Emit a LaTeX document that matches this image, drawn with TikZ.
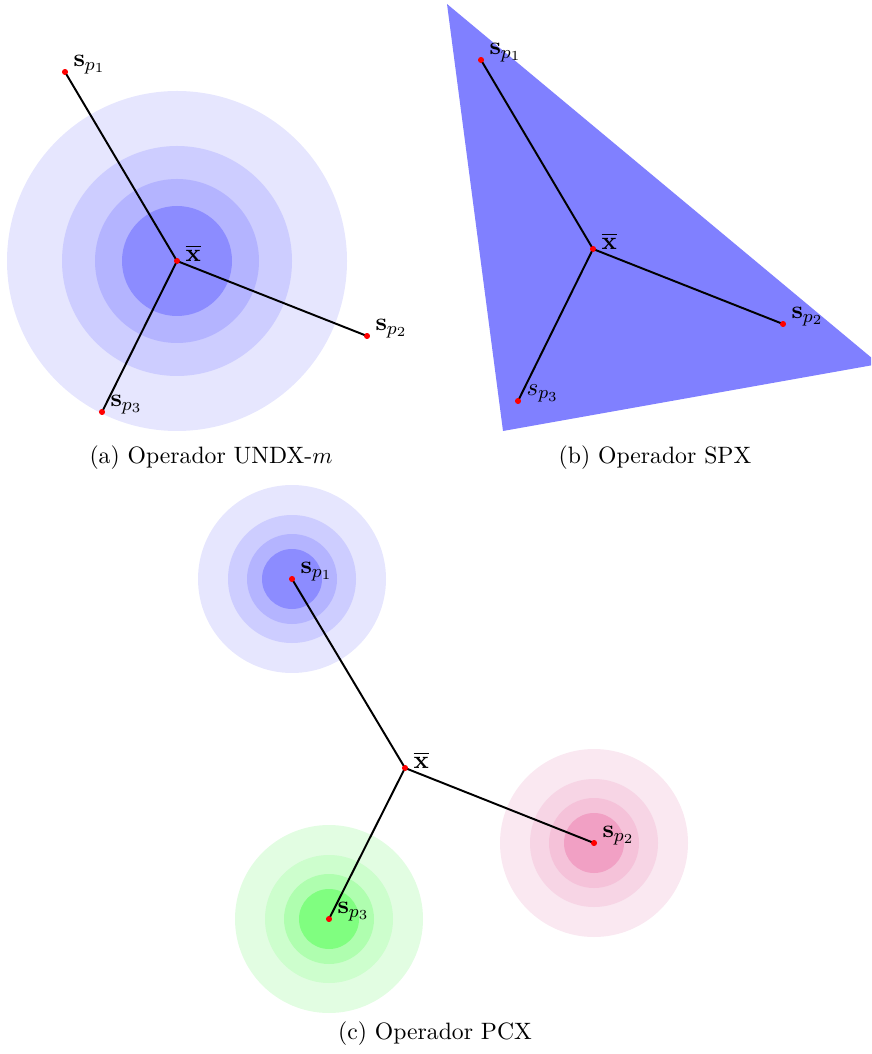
\documentclass[tikz,border=0pt]{standalone}
\usepackage{amsmath}
\definecolor{bA}{RGB}{230,230,254}
\definecolor{bB}{RGB}{205,205,255}
\definecolor{bC}{RGB}{180,180,255}
\definecolor{bD}{RGB}{140,140,255}
\definecolor{tri}{RGB}{128,128,255}
\definecolor{gA}{RGB}{226,253,226}
\definecolor{gB}{RGB}{205,254,205}
\definecolor{gC}{RGB}{175,254,175}
\definecolor{gD}{RGB}{128,254,128}
\definecolor{pA}{RGB}{250,232,241}
\definecolor{pB}{RGB}{247,213,229}
\definecolor{pC}{RGB}{245,194,217}
\definecolor{pD}{RGB}{241,160,196}
\tikzset{
  dotpt/.style={circle, fill=red, inner sep=0pt, minimum size=2.5pt},
  seg/.style={draw=black, line width=0.85pt},
  lab/.style={anchor=west, inner sep=0pt, xshift=3.5pt, yshift=3.3pt, font=\fontsize{11.3}{13}\selectfont},
  captext/.style={inner sep=0pt, font=\fontsize{10.3}{12}\selectfont}
}
\begin{document}
\begin{tikzpicture}[x=0.435pt, y=-0.435pt]
\useasboundingbox (0,0) rectangle (871,1054);
% ---------- (a) ----------
\fill[bA] (177,261) circle (170);
\fill[bB] (177,261) circle (115);
\fill[bC] (177,261) circle (82);
\fill[bD] (177,261) circle (55);
\node[dotpt] (ax) at (177,261) {};
\node[dotpt] (a1) at (65,72) {};
\node[dotpt] (a2) at (367,336) {};
\node[dotpt] (a3) at (102,412) {};
\draw[seg] (ax.center) -- (a1.center);
\draw[seg] (ax.center) -- (a2.center);
\draw[seg] (ax.center) -- (a3.center);
\node[dotpt] at (ax) {};
\node[dotpt] at (a1) {};
\node[dotpt] at (a2) {};
\node[dotpt] at (a3) {};
\node[lab] (axl) at (ax) {$\overline{\mathbf{x}}$};
\node[lab] (a1l) at (a1) {$\mathbf{s}_{p_1}$};
\node[lab] (a2l) at (a2) {$\mathbf{s}_{p_2}$};
\node[lab] (a3l) at (a3) {$\mathbf{s}_{p_3}$};
\node[captext] (capa) at (211,458) {(a) Operador UNDX-$m$};
% ---------- (b) ----------
\begin{scope}
\clip (0,0) rectangle (871,1054);
\fill[tri] (447,4) -- (879,364) -- (503,431) -- cycle;
\end{scope}
\node[dotpt] (bx) at (593,249) {};
\node[dotpt] (b1) at (481,60) {};
\node[dotpt] (b2) at (783,324) {};
\node[dotpt] (b3) at (518,401) {};
\draw[seg] (bx.center) -- (b1.center);
\draw[seg] (bx.center) -- (b2.center);
\draw[seg] (bx.center) -- (b3.center);
\node[dotpt] at (bx) {};
\node[dotpt] at (b1) {};
\node[dotpt] at (b2) {};
\node[dotpt] at (b3) {};
\node[lab] (bxl) at (bx) {$\overline{\mathbf{x}}$};
\node[lab] (b1l) at (b1) {$\mathbf{s}_{p_1}$};
\node[lab] (b2l) at (b2) {$\mathbf{s}_{p_2}$};
\node[lab] (b3l) at (b3) {$s_{p_3}$};
\node[captext] (capb) at (655,458) {(b) Operador SPX};
% ---------- (c) ----------
\fill[bA] (292,579) circle (94);
\fill[bB] (292,579) circle (64);
\fill[bC] (292,579) circle (45);
\fill[bD] (292,579) circle (30);
\fill[pA] (594,843) circle (94);
\fill[pB] (594,843) circle (64);
\fill[pC] (594,843) circle (45);
\fill[pD] (594,843) circle (30);
\fill[gA] (329,919) circle (94);
\fill[gB] (329,919) circle (64);
\fill[gC] (329,919) circle (45);
\fill[gD] (329,919) circle (30);
\node[dotpt] (cx) at (405,768) {};
\node[dotpt] (c1) at (292,579) {};
\node[dotpt] (c2) at (594,843) {};
\node[dotpt] (c3) at (329,919) {};
\draw[seg] (cx.center) -- (c1.center);
\draw[seg] (cx.center) -- (c2.center);
\draw[seg] (cx.center) -- (c3.center);
\node[dotpt] at (cx) {};
\node[dotpt] at (c1) {};
\node[dotpt] at (c2) {};
\node[dotpt] at (c3) {};
\node[lab] (cxl) at (cx) {$\overline{\mathbf{x}}$};
\node[lab] (c1l) at (c1) {$\mathbf{s}_{p_1}$};
\node[lab] (c2l) at (c2) {$\mathbf{s}_{p_2}$};
\node[lab] (c3l) at (c3) {$\mathbf{s}_{p_3}$};
\node[captext] (capc) at (435,1034) {(c) Operador PCX};
\end{tikzpicture}
\end{document}
